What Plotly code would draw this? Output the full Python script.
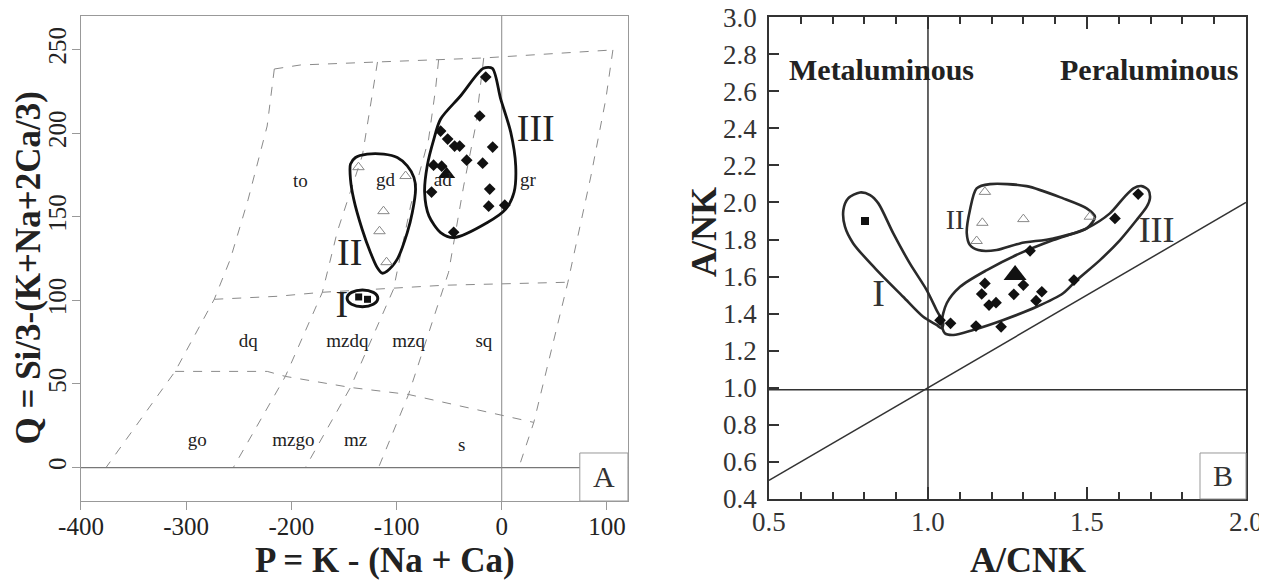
import plotly.graph_objects as go

SERIF = "Liberation Serif"

# ---------------- Panel A data (P-Q diagram) ----------------
A_diamond_P = [-15.2, -20.9, -58.1, -51.4, -44.8, -40.0, -8.6, -33.3, -18.1, -64.8, -57.1, -66.7, -11.4, -12.4, 2.9, -45.7]
A_diamond_Q = [233.5, 210.2, 201.2, 196.4, 192.2, 192.2, 191.6, 183.8, 182.0, 180.8, 180.2, 164.7, 166.5, 156.3, 156.9, 140.7]
A_tri_P = [-136.2, -91.4, -112.4, -116.2, -109.5]
A_tri_Q = [179.6, 174.3, 153.3, 141.3, 122.8]
A_sq_P = [-136.0, -127.6]
A_sq_Q = [102.0, 100.6]
A_big_P = [-52.4]
A_big_Q = [175.4]

A_polyIII_P = [-17.4, -8.9, -1.0, 8.6, 13.3, 11.7, 3.8, -13.6, -45.4, -58.1, -69.2, -73.3, -70.8, -64.5, -58.1, -39.0, -17.4]
A_polyIII_Q = [238.7, 238.7, 220.4, 200.4, 180.4, 164.5, 154.5, 146.5, 137.5, 140.5, 150.5, 164.5, 180.4, 196.4, 208.4, 222.3, 238.7]
A_polyII_P = [-143.8, -139.0, -127.9, -112.1, -99.3, -89.8, -83.5, -81.9, -85.0, -89.8, -99.3, -108.9, -113.6, -118.4, -124.8, -132.7, -140.7, -143.8, -143.8]
A_polyII_Q = [181.4, 185.4, 187.4, 187.4, 185.4, 180.4, 173.5, 166.5, 152.5, 140.5, 124.6, 117.5, 116.2, 119.6, 128.6, 142.5, 160.5, 172.5, 181.4]
A_polyI_center = (-132.4, 101.2)
A_polyI_radius = (14.6, 5.0)

# dashed classification grid
grid_top_P = [-216.2, -201.0, -191.4, -118.1, -60.0, -17.1, 105.7]
grid_top_Q = [238.3, 239.5, 240.7, 242.5, 243.7, 244.9, 249.7]
grid_v1_P = [-216.2, -223.0, -241.0, -258.0, -273.3, -310.5, -376.2]
grid_v1_Q = [238.3, 204.2, 160.5, 124.6, 100.6, 57.5, 0.0]
grid_v2_P = [-118.1, -132.4, -156.2, -170.5, -205.7, -255.2]
grid_v2_Q = [242.5, 186.8, 141.3, 104.8, 54.5, 0.0]
grid_v3_P = [-60.0, -62.9, -69.5, -86.7, -102.9, -143.8, -186.7]
grid_v3_Q = [243.7, 226.3, 196.4, 156.3, 106.6, 47.9, 0.0]
grid_v4_P = [-17.1, -20.0, -24.8, -36.2, -50.5, -55.2, -88.6, -117.1]
grid_v4_Q = [244.9, 228.1, 204.2, 168.3, 116.8, 107.8, 43.7, 0.0]
grid_v5_P = [105.7, 99.0, 84.8, 62.9, 30.5, 16.2]
grid_v5_Q = [249.7, 220.4, 174.3, 110.8, 27.0, 0.0]
grid_h1_P = [-273.3, -213.3, -170.5, -105.7, -55.2, 62.9]
grid_h1_Q = [100.6, 102.4, 104.8, 107.2, 109.0, 110.8]
grid_h2_P = [-310.5, -222.9, -205.7, -143.8, -88.6, -1.0, 30.5]
grid_h2_Q = [57.5, 57.5, 54.5, 47.9, 43.7, 31.7, 27.0]

A_region_labels = ["to", "gd", "ad", "gr", "dq", "mzdq", "mzq", "sq", "go", "mzgo", "mz", "s"]
A_region_P = [-191.4, -110.5, -56.0, 24.8, -241.0, -146.7, -88.6, -17.0, -289.5, -198.0, -139.0, -38.0]
A_region_Q = [170.5, 171.0, 171.0, 171.0, 75.0, 75.0, 75.0, 75.0, 15.6, 15.6, 15.6, 12.6]
A_roman = ["I", "II", "III"]
A_roman_P = [-152.1, -144.5, 32.4]
A_roman_Q = [95.6, 126.5, 200.8]

A_xticks = [-400, -300, -200, -100, 0, 100]
A_xticklabels = ["-400", "-300", "-200", "-100", "0", "100"]
A_yticks = [0, 50, 100, 150, 200, 250]

# ---------------- Panel B data (A/CNK - A/NK) ----------------
B_diamond_x = [1.661, 1.588, 1.321, 1.459, 1.300, 1.179, 1.169, 1.270, 1.358, 1.340, 1.192, 1.214, 1.038, 1.071, 1.151, 1.230]
B_diamond_y = [2.045, 1.914, 1.739, 1.581, 1.554, 1.563, 1.506, 1.504, 1.518, 1.470, 1.446, 1.459, 1.365, 1.348, 1.333, 1.329]
B_tri_x = [1.179, 1.171, 1.153, 1.300, 1.509]
B_tri_y = [2.057, 1.890, 1.792, 1.910, 1.923]
B_sq_x = [0.802]
B_sq_y = [1.90]
B_big_x = [1.274]
B_big_y = [1.608]

B_polyI_x = [0.786, 0.818, 0.844, 0.891, 0.943, 0.996, 1.027, 1.048, 1.043, 1.027, 0.985, 0.922, 0.839, 0.765, 0.739, 0.734, 0.749, 0.786]
B_polyI_y = [2.054, 2.040, 1.995, 1.833, 1.671, 1.527, 1.419, 1.348, 1.321, 1.339, 1.383, 1.491, 1.635, 1.779, 1.869, 1.959, 2.022, 2.054]
B_polyII_x = [1.153, 1.195, 1.310, 1.425, 1.499, 1.525, 1.499, 1.394, 1.289, 1.216, 1.158, 1.132, 1.122, 1.132, 1.153]
B_polyII_y = [2.076, 2.099, 2.088, 2.022, 1.968, 1.923, 1.860, 1.806, 1.779, 1.743, 1.743, 1.770, 1.833, 1.959, 2.076]
B_polyIII_x = [1.646, 1.672, 1.693, 1.698, 1.688, 1.656, 1.604, 1.541, 1.468, 1.425, 1.342, 1.237, 1.142, 1.080, 1.053, 1.043, 1.059, 1.101, 1.185, 1.289, 1.394, 1.499, 1.572, 1.614, 1.646]
B_polyIII_y = [2.076, 2.088, 2.067, 2.022, 1.977, 1.905, 1.797, 1.689, 1.581, 1.510, 1.437, 1.366, 1.312, 1.285, 1.294, 1.348, 1.456, 1.545, 1.635, 1.725, 1.797, 1.860, 1.941, 2.022, 2.076]

B_roman = ["I", "II", "III"]
B_roman_x = [0.845, 1.085, 1.719]
B_roman_y = [1.49, 1.896, 1.833]
B_roman_size = [38, 28, 36]

B_xticks = [0.5, 1.0, 1.5, 2.0]
B_xticklabels = ["0.5", "1.0", "1.5", "2.0"]
B_yticks = [0.4, 0.6, 0.8, 1.0, 1.2, 1.4, 1.6, 1.8, 2.0, 2.2, 2.4, 2.6, 2.8, 3.0]
B_yticklabels = ["0.4", "0.6", "0.8", "1.0", "1.2", "1.4", "1.6", "1.8", "2.0", "2.2", "2.4", "2.6", "2.8", "3.0"]

# ---------------- Figure ----------------
fig = go.Figure()
GRID = dict(color="#8a8a8a", width=1, dash="dash")

for gp, gq in [(grid_top_P, grid_top_Q), (grid_v1_P, grid_v1_Q), (grid_v2_P, grid_v2_Q),
               (grid_v3_P, grid_v3_Q), (grid_v4_P, grid_v4_Q), (grid_v5_P, grid_v5_Q),
               (grid_h1_P, grid_h1_Q), (grid_h2_P, grid_h2_Q)]:
    fig.add_trace(go.Scatter(x=gp, y=gq, mode="lines", line=GRID, xaxis="x", yaxis="y",
                             hoverinfo="skip", showlegend=False))

# reference lines A
fig.add_trace(go.Scatter(x=[-400, 120], y=[0, 0], mode="lines", line=dict(color="#777", width=1.2),
                         xaxis="x", yaxis="y", showlegend=False, hoverinfo="skip"))
fig.add_trace(go.Scatter(x=[0, 0], y=[-20, 270], mode="lines", line=dict(color="#888", width=1),
                         xaxis="x", yaxis="y", showlegend=False, hoverinfo="skip"))

# polygons A
for px, py in [(A_polyIII_P, A_polyIII_Q), (A_polyII_P, A_polyII_Q)]:
    fig.add_trace(go.Scatter(x=px, y=py, mode="lines", line=dict(color="#111", width=2.8, shape="spline", smoothing=0.8),
                             xaxis="x", yaxis="y", showlegend=False, hoverinfo="skip"))
cx, cy = A_polyI_center
rx, ry = A_polyI_radius
fig.add_shape(type="circle", xref="x", yref="y", x0=cx - rx, x1=cx + rx, y0=cy - ry, y1=cy + ry,
              line=dict(color="#111", width=3))

# points A
fig.add_trace(go.Scatter(x=A_tri_P, y=A_tri_Q, mode="markers", xaxis="x", yaxis="y", showlegend=False,
                         marker=dict(symbol="triangle-up-open", size=10, color="#888", line=dict(width=1))))
fig.add_trace(go.Scatter(x=A_diamond_P, y=A_diamond_Q, mode="markers", xaxis="x", yaxis="y", showlegend=False,
                         marker=dict(symbol="diamond", size=9, color="#111")))
fig.add_trace(go.Scatter(x=A_sq_P, y=A_sq_Q, mode="markers", xaxis="x", yaxis="y", showlegend=False,
                         marker=dict(symbol="square", size=7, color="#111")))
fig.add_trace(go.Scatter(x=A_big_P, y=A_big_Q, mode="markers", xaxis="x", yaxis="y", showlegend=False,
                         marker=dict(symbol="triangle-up", size=15, color="#111")))

# text A
fig.add_trace(go.Scatter(x=A_region_P, y=A_region_Q, text=A_region_labels, mode="text", xaxis="x", yaxis="y",
                         showlegend=False, textfont=dict(family=SERIF, size=19, color="#222")))
fig.add_trace(go.Scatter(x=A_roman_P, y=A_roman_Q, text=A_roman, mode="text", xaxis="x", yaxis="y",
                         showlegend=False, textfont=dict(family=SERIF, size=38, color="#222")))

# reference lines B
BL = dict(color="#333", width=1.5)
fig.add_trace(go.Scatter(x=[1.0, 1.0], y=[0.4, 3.0], mode="lines", line=BL, xaxis="x2", yaxis="y2",
                         showlegend=False, hoverinfo="skip"))
fig.add_trace(go.Scatter(x=[0.5, 2.0], y=[0.99, 0.99], mode="lines", line=BL, xaxis="x2", yaxis="y2",
                         showlegend=False, hoverinfo="skip"))
fig.add_trace(go.Scatter(x=[0.5, 2.0], y=[0.5, 2.0], mode="lines", line=BL, xaxis="x2", yaxis="y2",
                         showlegend=False, hoverinfo="skip"))

for px, py in [(B_polyI_x, B_polyI_y), (B_polyII_x, B_polyII_y), (B_polyIII_x, B_polyIII_y)]:
    fig.add_trace(go.Scatter(x=px, y=py, mode="lines", line=dict(color="#2a2a2a", width=2.6, shape="spline", smoothing=0.8),
                             xaxis="x2", yaxis="y2", showlegend=False, hoverinfo="skip"))

fig.add_trace(go.Scatter(x=B_tri_x, y=B_tri_y, mode="markers", xaxis="x2", yaxis="y2", showlegend=False,
                         marker=dict(symbol="triangle-up-open", size=10, color="#888", line=dict(width=1))))
fig.add_trace(go.Scatter(x=B_diamond_x, y=B_diamond_y, mode="markers", xaxis="x2", yaxis="y2", showlegend=False,
                         marker=dict(symbol="diamond", size=9, color="#111")))
fig.add_trace(go.Scatter(x=B_sq_x, y=B_sq_y, mode="markers", xaxis="x2", yaxis="y2", showlegend=False,
                         marker=dict(symbol="square", size=8, color="#111")))
fig.add_trace(go.Scatter(x=B_big_x, y=B_big_y, mode="markers", xaxis="x2", yaxis="y2", showlegend=False,
                         marker=dict(symbol="triangle-up", size=20, color="#111")))
fig.add_trace(go.Scatter(x=B_roman_x, y=B_roman_y, text=B_roman, mode="text", xaxis="x2", yaxis="y2",
                         showlegend=False, textfont=dict(family=SERIF, size=B_roman_size, color="#333")))

# ---------------- Axes ----------------
# (the page body has an 8px margin, so paper positions are shifted by 8px up/left)
TICKF = dict(family=SERIF, size=25, color="#222")
fig.update_layout(
    width=1267, height=582,
    margin=dict(l=0, r=0, t=0, b=0, autoexpand=False),
    paper_bgcolor="white", plot_bgcolor="white",
    showlegend=False,
    xaxis=dict(domain=[0.0576, 0.4893], range=[-400, 120], tickvals=A_xticks, ticktext=A_xticklabels,
               ticks="outside", automargin=False,
               ticklen=8, tickcolor="#999", showline=True, linecolor="#999", linewidth=1.2, mirror=True,
               showgrid=False, zeroline=False, tickfont=TICKF, anchor="y", ticklabelstandoff=-5),
    yaxis=dict(domain=[0.1529, 0.9863], range=[-20, 270], tickvals=A_yticks, ticks="outside", automargin=False,
               ticklen=8, tickcolor="#999", showline=True, linecolor="#999", linewidth=1.2, mirror=True,
               showgrid=False, zeroline=False, tickfont=TICKF, tickangle=-90, anchor="x", ticklabelstandoff=-4),
    xaxis2=dict(domain=[0.6006, 0.9771], range=[0.5, 2.0], tickvals=B_xticks, ticktext=B_xticklabels,
                ticks="inside", ticklen=12, tickwidth=1.5, tickcolor="#333", automargin=False,
                minor=dict(dtick=0.1, tick0=0.5, ticks="inside", ticklen=7, tickwidth=1.5, tickcolor="#333"),
                showline=True, linecolor="#333", linewidth=1.8, mirror="allticks",
                showgrid=False, zeroline=False, tickfont=dict(family=SERIF, size=27, color="#333"),
                anchor="y2", ticklabelstandoff=-2, ticklabeloverflow="allow"),
    yaxis2=dict(domain=[0.1564, 0.9845], range=[0.4, 3.0005], tickvals=B_yticks, ticktext=B_yticklabels,
                ticks="inside", ticklen=10,
                tickwidth=1.5, tickcolor="#333", showline=True, linecolor="#333", linewidth=1.8, mirror=True,
                showgrid=False, zeroline=False, tickfont=dict(family=SERIF, size=27, color="#333"),
                anchor="x2", automargin=False, ticklabelstandoff=5, ticklabeloverflow="allow"),
    yaxis3=dict(domain=[0.1564, 0.9845], range=[0.4, 3.0005], overlaying="y2", side="right", anchor="x2",
                dtick=0.1, tick0=0.4, ticks="inside", ticklen=8, tickwidth=1.5, tickcolor="#333",
                showticklabels=False, showgrid=False, zeroline=False, showline=False, automargin=False),
)

# ---------------- Annotations ----------------
ann = []
ann.append(dict(text="<b>P = K - (Na + Ca)</b>", x=0.2976, y=0.0515, xref="paper", yref="paper",
                showarrow=False, font=dict(family=SERIF, size=35, color="#222"), xanchor="center", yanchor="middle"))
ann.append(dict(text="<b>Q = Si/3-(K+Na+2Ca/3)</b>", x=0.0158, y=0.5524, xref="paper", yref="paper",
                showarrow=False, textangle=-90, font=dict(family=SERIF, size=35, color="#222"),
                xanchor="center", yanchor="middle"))
ann.append(dict(text="<b>A/CNK</b>", x=0.8051, y=0.0515, xref="paper", yref="paper",
                showarrow=False, font=dict(family=SERIF, size=36, color="#222"), xanchor="center", yanchor="middle"))
ann.append(dict(text="<b>A/NK</b>", x=0.5493, y=0.6151, xref="paper", yref="paper", textangle=-90,
                showarrow=False, font=dict(family=SERIF, size=36, color="#222"), xanchor="center", yanchor="middle"))
ann.append(dict(text="<b>Metaluminous</b>", x=0.6148, y=0.8935, xref="paper", yref="paper",
                showarrow=False, font=dict(family=SERIF, size=30, color="#222"), xanchor="left", yanchor="middle"))
ann.append(dict(text="<b>Peraluminous</b>", x=0.9724, y=0.8935, xref="paper", yref="paper",
                showarrow=False, font=dict(family=SERIF, size=30, color="#222"), xanchor="right", yanchor="middle"))
# panel letters
ann.append(dict(text="A", x=0.956, y=0.05, xref="x domain", yref="y domain", showarrow=False,
                font=dict(family=SERIF, size=30, color="#333"), xanchor="center", yanchor="middle"))
ann.append(dict(text="B", x=0.952, y=0.048, xref="x2 domain", yref="y2 domain", showarrow=False,
                font=dict(family=SERIF, size=30, color="#333"), xanchor="center", yanchor="middle"))
fig.update_layout(annotations=ann)

fig.add_shape(type="rect", xref="x domain", yref="y domain", x0=0.912, x1=1.0, y0=0.0, y1=0.099,
              line=dict(color="#999", width=1), fillcolor="white", layer="above")
fig.add_shape(type="rect", xref="x2 domain", yref="y2 domain", x0=0.9036, x1=1.0, y0=0.0, y1=0.0954,
              line=dict(color="#999", width=1), fillcolor="white", layer="above")

fig.write_html("out.html")
